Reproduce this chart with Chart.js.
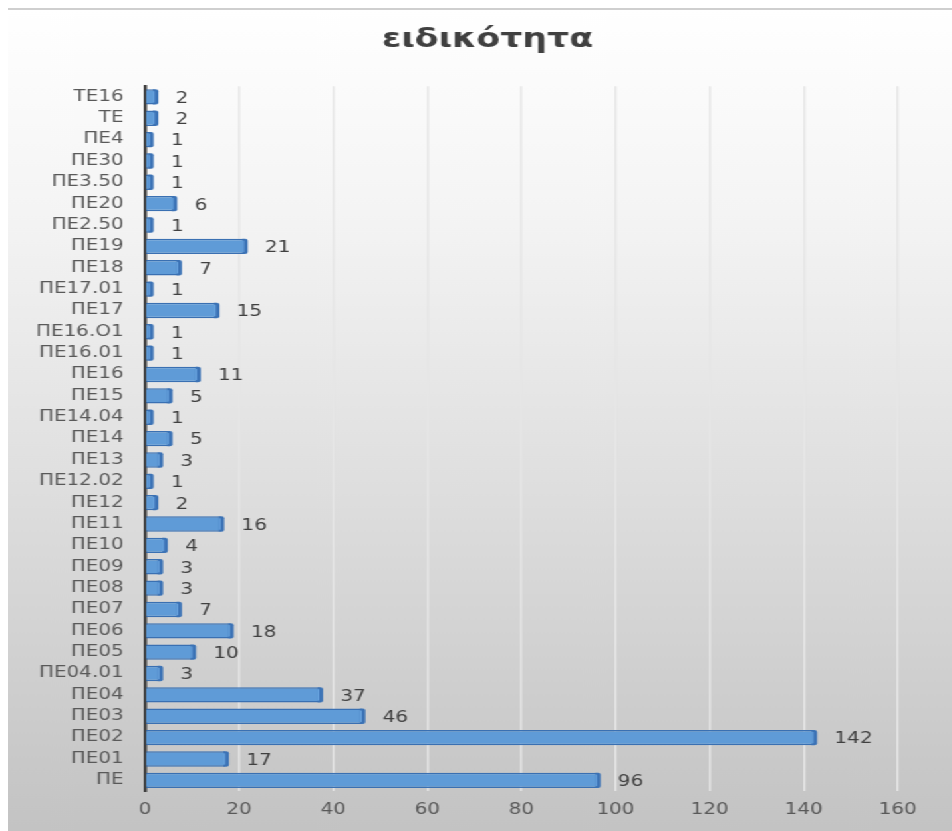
<!DOCTYPE html>
<html>
<head>
<meta charset="utf-8">
<script src="https://cdn.jsdelivr.net/npm/chart.js@4"></script>
<style>
    html, body { margin: 0; padding: 0; background: #ffffff; overflow: hidden; }
    #wrap {
        position: absolute; left: 8px; top: 8px;
        width: 710px; height: 823px;
        border-top: 2px solid #cfcfcf;
        box-sizing: border-box;
        background: linear-gradient(to bottom, #ffffff 0%, #f4f4f4 25%, #c3c3c3 100%);
        transform-origin: 0 0;
        transform: scaleX(1.33);
    }
</style>
</head>
<body>
<div id="wrap"><canvas id="eidikotita_chart"></canvas></div>
<script>
// bottom to top, the way the sheet lists them
const categories = [
    "ΠΕ", "ΠΕ01", "ΠΕ02", "ΠΕ03", "ΠΕ04", "ΠΕ04.01", "ΠΕ05", "ΠΕ06", "ΠΕ07", "ΠΕ08",
    "ΠΕ09", "ΠΕ10", "ΠΕ11", "ΠΕ12", "ΠΕ12.02", "ΠΕ13", "ΠΕ14", "ΠΕ14.04", "ΠΕ15", "ΠΕ16",
    "ΠΕ16.01", "ΠΕ16.Ο1", "ΠΕ17", "ΠΕ17.01", "ΠΕ18", "ΠΕ19", "ΠΕ2.50", "ΠΕ20", "ΠΕ3.50",
    "ΠΕ30", "ΠΕ4", "ΤΕ", "ΤΕ16"
];
const counts = [
    96, 17, 142, 46, 37, 3, 10, 18, 7, 3,
    3, 4, 16, 2, 1, 3, 5, 1, 5, 11,
    1, 1, 15, 1, 7, 21, 1, 6, 1,
    1, 1, 2, 2
];
const xMin = 0, xMax = 160, xStep = 20;

const FONT = "'DejaVu Sans', sans-serif";

// 3d-ish end cap on each bar plus the value after it
const barValues = {
    id: 'barValues',
    afterDatasetsDraw(chart) {
        const ctx = chart.ctx;
        const meta = chart.getDatasetMeta(0);
        ctx.save();
        meta.data.forEach((bar) => {
            const h = bar.height;
            ctx.fillStyle = '#3b72b5';
            ctx.beginPath();
            ctx.roundRect(bar.x - 1, bar.y - h / 2, 4, h, [0, 2, 2, 0]);
            ctx.fill();
            ctx.fillStyle = '#6aa5e0';
            ctx.fillRect(bar.x - 1, bar.y - h / 2 + 2, 1.2, h - 4);
        });
        ctx.font = "15px " + FONT;
        ctx.fillStyle = '#404040';
        ctx.textAlign = 'left';
        ctx.textBaseline = 'middle';
        meta.data.forEach((bar, i) => {
            ctx.fillText(String(counts[i]), bar.x + 16, bar.y + 2);
        });
        ctx.restore();
    }
};

// nudge the title to where the sheet had it
const titleShift = {
    id: 'titleShift',
    afterLayout(chart) {
        if (chart.titleBlock) {
            chart.titleBlock.left += 21;
            chart.titleBlock.right += 21;
        }
    }
};

const ctx = document.getElementById("eidikotita_chart").getContext("2d");
new Chart(ctx, {
    type: 'bar',
    data: {
        labels: categories,
        datasets: [{
            label: 'ειδικότητα',
            data: counts,
            backgroundColor: '#5f9bd7',
            borderColor: '#3a70b2',
            borderWidth: { top: 1.5, bottom: 1.5, right: 0, left: 0 },
            borderSkipped: 'start',
            barPercentage: 0.72,
            categoryPercentage: 1
        }]
    },
    options: {
        indexAxis: 'y',
        responsive: true,
        maintainAspectRatio: false,
        animation: false,
        layout: { padding: { left: 10, right: 41, top: 0, bottom: 2 } },
        plugins: {
            legend: { display: false },
            tooltip: { enabled: false },
            title: {
                display: true,
                text: 'ειδικότητα',
                color: '#404040',
                font: { family: FONT, size: 26, weight: 'bold' },
                padding: { top: 15, bottom: 30 }
            }
        },
        scales: {
            x: {
                min: xMin, max: xMax,
                ticks: { stepSize: xStep, color: '#595959', font: { family: FONT, size: 15 }, padding: 10 },
                grid: {
                    color: (c) => c.tick && c.tick.value === 0 ? 'rgba(0,0,0,0)' : '#e6e6e6',
                    lineWidth: 1.5,
                    drawTicks: false
                },
                border: { display: false }
            },
            y: {
                reverse: true,
                ticks: { color: '#595959', font: { family: FONT, size: 15 }, padding: 16, autoSkip: false },
                grid: { display: false, drawTicks: false },
                border: { display: true, color: '#404040', width: 2.5 },
                afterFit: (scale) => { scale.width = 93; }
            }
        }
    },
    plugins: [barValues, titleShift]
});
</script>
</body>
</html>
